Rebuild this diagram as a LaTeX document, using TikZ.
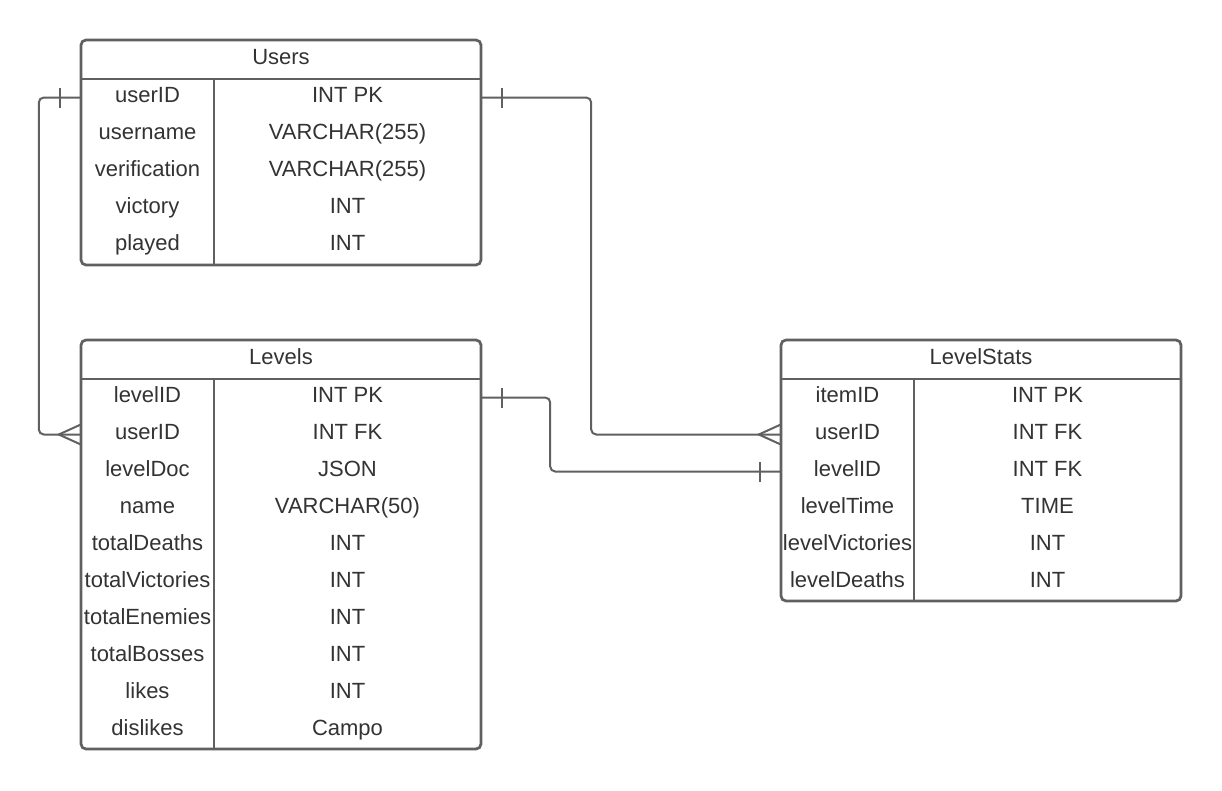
\documentclass[tikz,border=0pt]{standalone}
\usepackage{fontspec}
\setmainfont{Liberation Sans}
\begin{document}
\begin{tikzpicture}[x=1pt,y=-1pt,
  every node/.style={text=txt},
  tbl/.style={draw=ln, line width=2.7pt, rounded corners=5pt},
  sep/.style={draw=ln, line width=2.7pt},
  conn/.style={draw=ln, line width=2pt, rounded corners=5pt},
  tick/.style={draw=ln, line width=2pt},
  cell/.style={inner sep=0pt, minimum height=37pt, text height=13pt, text depth=2.75pt, font=\fontsize{22}{26}\selectfont},
  cellL/.style={cell, minimum width=133pt},
  cellR/.style={cell, minimum width=267pt},
  head/.style={cell, minimum height=39pt, minimum width=400pt}]
\definecolor{txt}{HTML}{333333}
\definecolor{ln}{HTML}{606060}
\useasboundingbox (0,0) rectangle (1222,790);
\fill[white] (0,0) rectangle (1222,790);

% Users table
\draw[tbl] (81,40) rectangle (481,265);
\draw[sep] (81,79) -- (481,79);
\draw[sep] (214,79) -- (214,265);
\node[head] (users) at (281,59.5) {Users};
\foreach \n/\t [count=\i] in {userID/INT PK,username/VARCHAR(255),verification/VARCHAR(255),victory/INT,played/INT}{
  \node[cellL] (u\i) at (147.5,{79+37*\i-18.5}) {\n};
  \node[cellR] (ut\i) at (347.5,{79+37*\i-18.5}) {\t};
}

% Levels table
\draw[tbl] (81,340) rectangle (481,749);
\draw[sep] (81,379) -- (481,379);
\draw[sep] (214,379) -- (214,749);
\node[head] (levels) at (281,359.5) {Levels};
\foreach \n/\t [count=\i] in {levelID/INT PK,userID/INT FK,levelDoc/JSON,name/VARCHAR(50),totalDeaths/INT,totalVictories/INT,totalEnemies/INT,totalBosses/INT,likes/INT,dislikes/Campo}{
  \node[cellL] (l\i) at (147.5,{379+37*\i-18.5}) {\n};
  \node[cellR] (lt\i) at (347.5,{379+37*\i-18.5}) {\t};
}

% LevelStats table
\draw[tbl] (781,340) rectangle (1181,601);
\draw[sep] (781,379) -- (1181,379);
\draw[sep] (914,379) -- (914,601);
\node[head] (stats) at (981,359.5) {LevelStats};
\foreach \n/\t [count=\i] in {itemID/INT PK,userID/INT FK,levelID/INT FK,levelTime/TIME,levelVictories/INT,levelDeaths/INT}{
  \node[cellL] (s\i) at (847.5,{379+37*\i-18.5}) {\n};
  \node[cellR] (st\i) at (1047.5,{379+37*\i-18.5}) {\t};
}

% Users.userID -> Levels.userID
\draw[conn] (u1.west) -- ++(-42,0) |- (l2.west);
\draw[tick] ([xshift=-21pt,yshift=-10pt]u1.west) -- ([xshift=-21pt,yshift=10pt]u1.west);
\draw[tick] ([yshift=-10pt]l2.west) -- ([xshift=-22pt]l2.west) -- ([yshift=10pt]l2.west);

% Users.userID -> LevelStats.userID
\draw[conn] (ut1.east) -- ++(110,0) |- (s2.west);
\draw[tick] ([xshift=21pt,yshift=-10pt]ut1.east) -- ([xshift=21pt,yshift=10pt]ut1.east);
\draw[tick] ([yshift=-10pt]s2.west) -- ([xshift=-22pt]s2.west) -- ([yshift=10pt]s2.west);

% Levels.levelID -> LevelStats.levelID
\draw[conn] (lt1.east) -- ++(69,0) |- (s3.west);
\draw[tick] ([xshift=21pt,yshift=-10pt]lt1.east) -- ([xshift=21pt,yshift=10pt]lt1.east);
\draw[tick] ([xshift=-21pt,yshift=-10pt]s3.west) -- ([xshift=-21pt,yshift=10pt]s3.west);
\end{tikzpicture}
\end{document}
